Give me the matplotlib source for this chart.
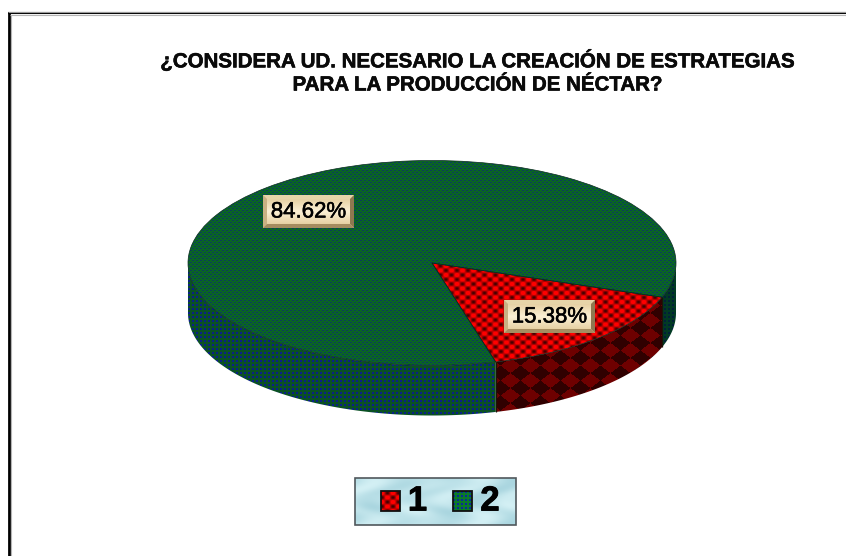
"""Survey result: 3D-look pie with textured faces, bevelled value tags and a legend strip."""
import numpy as np
import matplotlib
matplotlib.use("Agg")
import matplotlib.pyplot as plt
import matplotlib.patheffects as pe
from matplotlib.patches import Polygon, Rectangle

plt.rcParams["font.family"] = ["Liberation Sans", "DejaVu Sans"]

TITLE_LINES = ["¿CONSIDERA UD. NECESARIO LA CREACIÓN DE ESTRATEGIAS",
               "PARA LA PRODUCCIÓN DE NÉCTAR?"]
CATEGORIES = ["1", "2"]
VALUES = [15.38, 84.62]

W, H = 846, 556
CX, CY, RX, RY, DEPTH = 432, 263, 244, 102.5, 50
START_ANGLE = -19.5

fig = plt.figure(figsize=(W / 100, H / 100), dpi=100, facecolor="white")


def full_axes(z):
    a = fig.add_axes([0, 0, 1, 1], zorder=z)
    a.set_xlim(0, W)
    a.set_ylim(H, 0)
    a.axis("off")
    a.patch.set_alpha(0)
    return a


tex = full_axes(1)
top = full_axes(3)

# pie axes spans the ellipse box, so the pie itself comes out squashed
pie_ax = fig.add_axes([(CX - RX) / W, 1 - (CY + RY) / H, 2 * RX / W, 2 * RY / H], zorder=2)
wedges, _ = pie_ax.pie(VALUES, startangle=START_ANGLE, counterclock=False, radius=1,
                       wedgeprops=dict(fc="none", ec="#06281c", lw=0.5))
pie_ax.set_aspect("auto")
pie_ax.set_xlim(-1, 1)
pie_ax.set_ylim(-1, 1)
for w in wedges:
    w.set_clip_on(False)

yy, xx = np.mgrid[0:H, 0:W]


def rgb(hexcol):
    return np.array(matplotlib.colors.to_rgb(hexcol))


def two_tone(mask, on, off):
    return np.where(mask[..., None], rgb(on), rgb(off))


# fine weave on the big slice, diamonds on the small one
weave = (xx + 2 * (yy // 2 % 2)) % 4 < 2
green_top = two_tone(weave & (yy % 2 == 0), "#0a4058", "#0a6424")
green_side = two_tone(weave & (yy % 4 < 2), "#0a2088", "#0a5024")
green_dark = two_tone(weave & (yy % 4 < 2), "#02203a", "#023a24")
green_key = two_tone(weave & (yy % 4 < 2), "#0a2a9a", "#0a7a2a")

u = (xx / 11.0 + yy / 9.0) % 1
v = (xx / 11.0 - yy / 9.0) % 1
spot = np.cos(2 * np.pi * u) + np.cos(2 * np.pi * v)
red_top = np.clip(rgb("#c00000") + (spot[..., None] / 2) * np.array([0.5, 0.0, 0.0]), 0, 1)

p = (xx - 1.33 * (yy - 365)) / 20.0
q = (xx + 1.33 * (yy - 365)) / 20.0
red_side = two_tone((np.floor(p) + np.floor(q)) % 2 == 0, "#6e0000", "#300000")


def paint(img, clip):
    im = tex.imshow(img, extent=(0, W, H, 0), interpolation="nearest", aspect="auto", zorder=2)
    im.set_clip_path(clip)


def arc_wall(t0, t1):
    t = np.radians(np.linspace(t0, t1, 120))
    x = CX + RX * np.cos(t)
    y = CY - RY * np.sin(t)
    pts = np.r_[np.c_[x, y], np.c_[x[::-1], y[::-1] + DEPTH]]
    poly = Polygon(pts, closed=True, fc="none", ec="none", transform=tex.transData)
    tex.add_patch(poly)
    return poly


# slice boundaries follow the values
cut = START_ANGLE - 360 * VALUES[0] / sum(VALUES)
paint(green_dark, arc_wall(START_ANGLE, 0))
paint(red_side, arc_wall(cut, START_ANGLE))
paint(green_side, arc_wall(-180, cut))
paint(red_top, wedges[0])
paint(green_top, wedges[1])

# seam where the two side walls meet
for ang in (cut, START_ANGLE):
    sx = CX + RX * np.cos(np.radians(ang))
    sy = CY - RY * np.sin(np.radians(ang))
    tex.plot([sx, sx], [sy, sy + DEPTH], color="#1a1408", lw=0.9, solid_capstyle="butt", zorder=3)
tex.set_xlim(0, W)
tex.set_ylim(H, 0)

# outer frame: black rule with a grey edge, running off the right and bottom
tex.plot([8.8, 8.8], [H, 12], color="#000000", lw=2.0, solid_capstyle="butt", zorder=5)
tex.plot([7.5, W], [13, 13], color="#000000", lw=1.5, solid_capstyle="butt", zorder=5)
tex.plot([7.5, W], [11.5, 11.5], color="#9a9a9a", lw=0.8, solid_capstyle="butt", zorder=5)
tex.plot([10, W], [14.5, 14.5], color="#b5b5b5", lw=0.8, solid_capstyle="butt", zorder=5)
tex.plot([10.5, 10.5], [15, H], color="#b5b5b5", lw=0.8, solid_capstyle="butt", zorder=5)

heavy = [pe.withStroke(linewidth=0.4, foreground="black")]
for y, line in zip((60.5, 85), TITLE_LINES):
    top.text(477.5, y, line, ha="center", va="center", fontsize=14.75, fontweight="bold",
             color="#0a0a0a", path_effects=heavy)


def value_tag(x0, y0, x1, y1, label):
    # bevelled tan plate
    n = 40
    g = np.abs(np.linspace(-1, 1, n))[:, None, None]
    plate = rgb("#fbf0d4") * (1 - g) + rgb("#e0c795") * g
    top.imshow(plate, extent=(x0, x1, y1, y0), aspect="auto", zorder=4, interpolation="bilinear")
    b = 4
    bevels = [([(x0, y0), (x1, y0), (x1 - b, y0 + b), (x0 + b, y0 + b)], "#e6d4a8"),
              ([(x0, y0), (x0 + b, y0 + b), (x0 + b, y1 - b), (x0, y1)], "#c9b183"),
              ([(x1, y0), (x1, y1), (x1 - b, y1 - b), (x1 - b, y0 + b)], "#8f7850"),
              ([(x0, y1), (x0 + b, y1 - b), (x1 - b, y1 - b), (x1, y1)], "#a58c60")]
    for pts, col in bevels:
        top.add_patch(Polygon(pts, closed=True, fc=col, ec="none", zorder=5))
    top.text((x0 + x1) / 2, (y0 + y1) / 2 + 0.5, label, ha="center", va="center", fontsize=16,
             color="black", zorder=6, path_effects=[pe.withStroke(linewidth=0.4, foreground="black")])


value_tag(263, 195, 354, 228, f"{VALUES[1]:.2f}%")
value_tag(504, 300, 595, 333, f"{VALUES[0]:.2f}%")

# legend strip on a pale water-like background
lx0, lx1, ly0, ly1 = 355, 516, 478, 525
lx, ly = np.meshgrid(np.arange(lx0, lx1), np.arange(ly0, ly1))
ripple = (np.sin(lx / 9.0 + np.sin(ly / 6.0) * 2.2) + np.sin((lx + 2 * ly) / 14.0)) / 2
water = rgb("#bfe3ea") + ripple[..., None] * np.array([0.08, 0.05, 0.04])
top.imshow(np.clip(water, 0, 1), extent=(lx0, lx1, ly1, ly0), aspect="auto", zorder=4, interpolation="bilinear")
top.add_patch(Rectangle((lx0, ly0), lx1 - lx0, ly1 - ly0, fc="none", ec="#50585c", lw=1.2, zorder=5))


def swatch(x0, x1, y0, y1, img):
    h, w = y1 - y0, x1 - x0
    top.imshow(img[:h, :w], extent=(x0, x1, y1, y0), aspect="auto", zorder=5, interpolation="nearest")
    top.add_patch(Rectangle((x0, y0), w, h, fc="none", ec="#101010", lw=1.3, zorder=6))


swatch(381, 400, 491, 511, red_top[300:, 500:])
swatch(453, 472, 491, 511, green_key[340:, 300:])
num_style = dict(ha="center", va="center", fontsize=25, fontweight="bold", color="black", zorder=6,
                 path_effects=[pe.withStroke(linewidth=0.6, foreground="black")])
top.text(417.5, 501, CATEGORIES[0], **num_style)
top.text(490, 501, CATEGORIES[1], **num_style)

top.set_xlim(0, W)
top.set_ylim(H, 0)
fig.savefig("out.png", dpi=100)
